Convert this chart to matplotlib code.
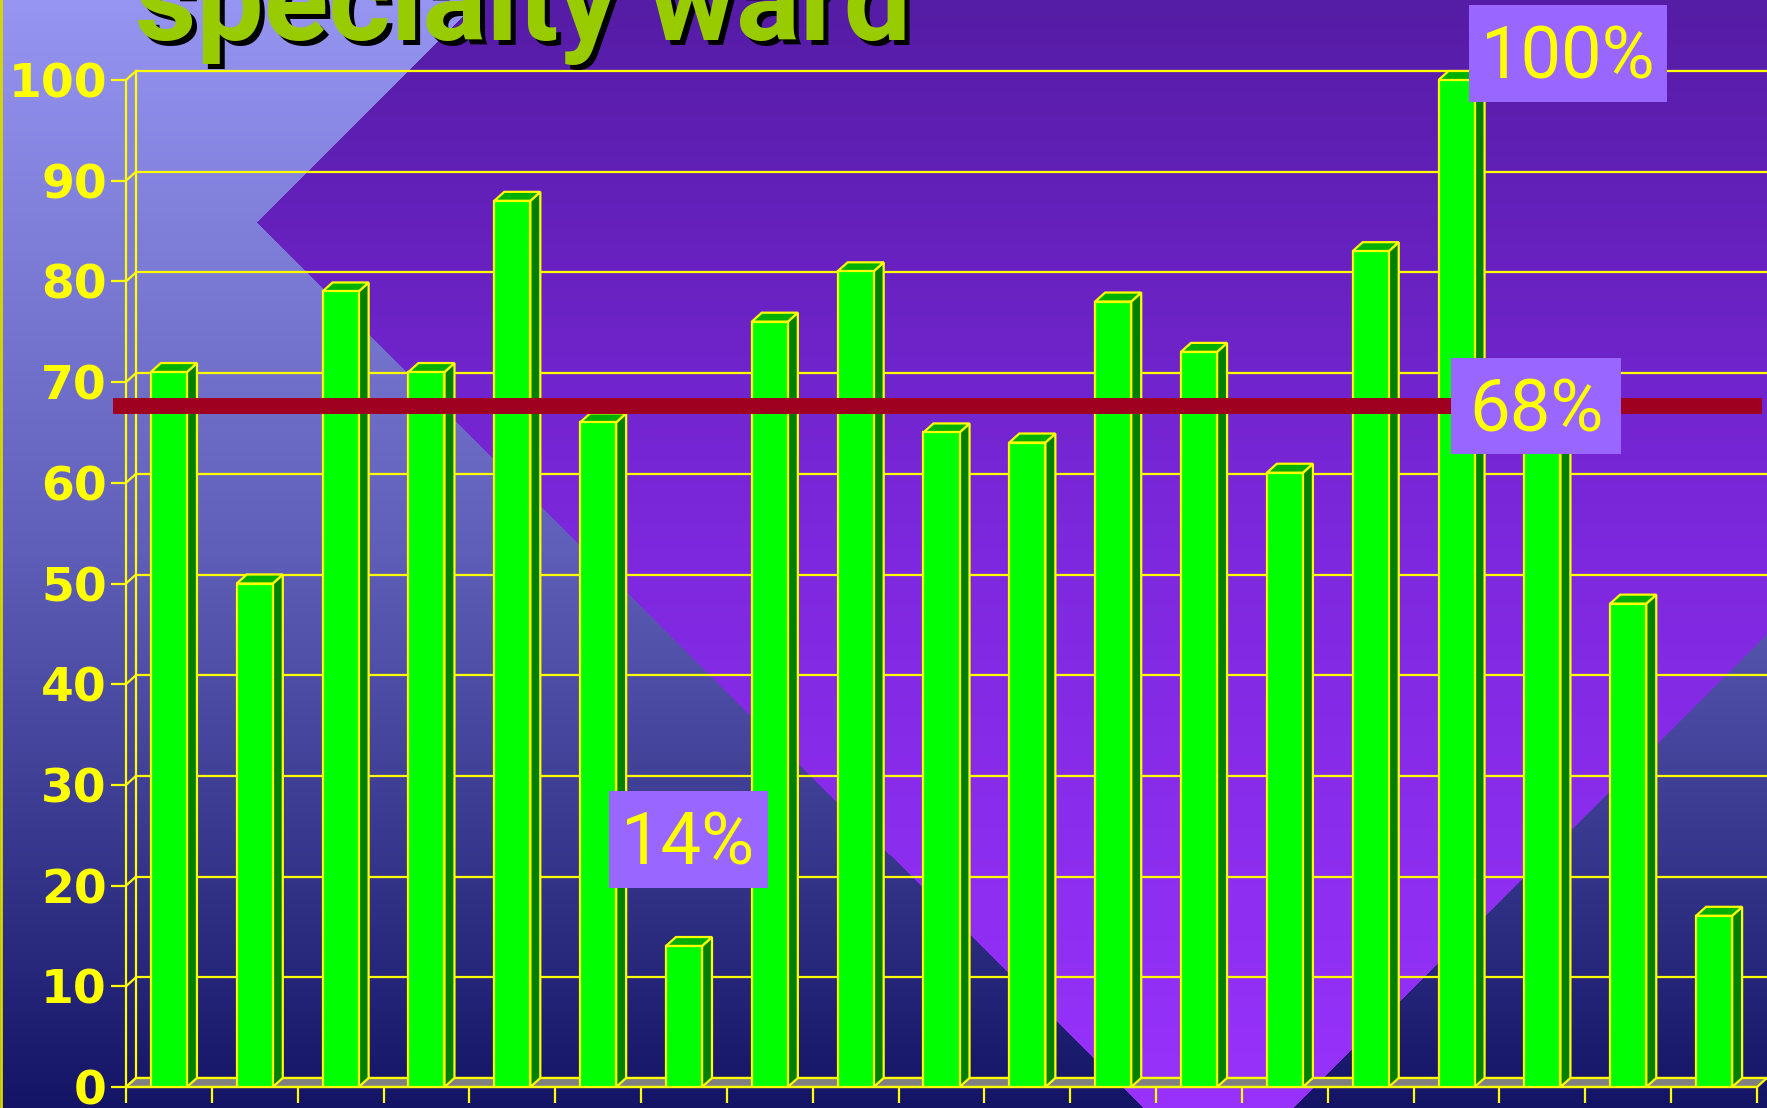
import numpy as np
import matplotlib
matplotlib.use("Agg")
import matplotlib.pyplot as plt
from matplotlib.patches import Polygon, Rectangle
from matplotlib.transforms import IdentityTransform, ScaledTranslation, offset_copy

# --- data ---
wards = list(range(1, 20))
pct = [71, 50, 79, 71, 88, 66, 14, 76, 81, 65, 64, 78, 73, 61, 83, 100, 66, 48, 17]
avg_pct = 68
yticks = list(range(0, 101, 10))
title = "specialty ward"

W, H = 1767, 1108
fig = plt.figure(figsize=(W / 100, H / 100), dpi=100)

# --- slide background: vertical gradient + purple diamond ---
bg = fig.add_axes([0, 0, 1, 1])
yy, xx = np.mgrid[0:H, 0:W]
ys = np.arange(H)
base = np.stack([np.interp(ys, [0, 550, H], c) for c in ([150, 95, 20], [150, 95, 20], [242, 185, 102])], axis=1)
dia = np.stack([np.interp(ys, [0, 550, H], c) for c in ([85, 125, 152], [28, 40, 50], [165, 222, 252])], axis=1)
mask = (np.abs(xx - 1217) + np.abs(yy - 222)) <= 960
img = np.where(mask[..., None], dia[:, None, :], base[:, None, :]) / 255.0
bg.imshow(img, extent=[0, W, H, 0], aspect="auto", interpolation="nearest")
bg.plot([1, 1], [0, H], color="#d8d800", lw=2)
bg.set_xlim(0, W)
bg.set_ylim(H, 0)
bg.axis("off")

# --- chart axes (front plane) ---
x0, x1, y0, y1 = 126, 1757, 1087, 80
ax = fig.add_axes([x0 / W, (H - y0) / H, (x1 - x0) / W, (y0 - y1) / H])
ax.set_facecolor("none")
n = len(pct)
ax.set_xlim(0, n)
ax.set_ylim(0, 100)
ddx = 10 * n / (x1 - x0)      # depth offset in data units
ddy = 9 * 100 / (y0 - y1)

yel = "yellow"
lw = 1.6

# back wall grid + left wall diagonals
for v in yticks:
    ax.plot([ddx, n + ddx], [v + ddy, v + ddy], color=yel, lw=lw, clip_on=False, zorder=1)
    ax.plot([0, ddx], [v, v + ddy], color=yel, lw=lw, clip_on=False, zorder=1)
ax.plot([ddx, ddx], [ddy, 100 + ddy], color=yel, lw=lw, clip_on=False, zorder=1)

# floor
ax.add_patch(Polygon([(0, 0), (n, 0), (n + ddx, ddy), (ddx, ddy)], closed=True,
                     facecolor="#808080", edgecolor=yel, lw=lw, clip_on=False, zorder=2))

# bars
bw = 0.42
xs = np.arange(n) + 0.5
for xc, v in zip(xs, pct):
    xl, xr = xc - bw / 2, xc + bw / 2
    ax.add_patch(Polygon([(xr, 0), (xr + ddx, ddy), (xr + ddx, v + ddy), (xr, v)], closed=True,
                         facecolor="#007f00", edgecolor=yel, lw=lw, zorder=3, clip_on=False))
    ax.add_patch(Polygon([(xl, v), (xr, v), (xr + ddx, v + ddy), (xl + ddx, v + ddy)], closed=True,
                         facecolor="#00b000", edgecolor=yel, lw=lw, zorder=3, clip_on=False))
ax.bar(xs, pct, width=bw, color="#00ff00", edgecolor=yel, lw=lw, zorder=3)

# average line (drawn a few pixels low, as on the slide)
line_tr = offset_copy(ax.transData, fig=fig, x=0, y=-4, units="dots")
ax.plot([-0.15, n + 0.06], [avg_pct, avg_pct], color="#a00020", lw=11.5,
        solid_capstyle="butt", clip_on=False, zorder=4, transform=line_tr)

# axes styling
for s in ["top", "right"]:
    ax.spines[s].set_visible(False)
for s in ["left", "bottom"]:
    ax.spines[s].set_color(yel)
    ax.spines[s].set_linewidth(lw)
    ax.spines[s].set_zorder(2.5)
ax.set_yticks(yticks)
ax.set_xticks(range(n + 1))
ax.set_xticklabels([])
ax.tick_params(axis="y", length=10.8, width=lw, color=yel, labelcolor=yel, labelsize=34, pad=3)
ax.tick_params(axis="x", length=11.5, width=lw, color=yel)
for t in ax.get_yticklabels():
    t.set_fontweight("bold")
    t.set_fontfamily("DejaVu Sans")


# min / max / avg labels
def tag(text, x, y, bwp, bhp, dy=0):
    tr = IdentityTransform() + ScaledTranslation(x, y, ax.transData)
    ax.add_patch(Rectangle((-bwp / 2, -bhp / 2 + dy), bwp, bhp, transform=tr, facecolor="#9966ff",
                           edgecolor="none", zorder=6, clip_on=False))
    ax.annotate(text, xy=(x, y), xytext=(0, -25 + dy), textcoords="offset pixels", ha="center",
                va="baseline", color=yel, fontsize=52, family="Roboto", zorder=7, annotation_clip=False)


imax = int(np.argmax(pct))
imin = int(np.argmin(pct))
tag(f"{pct[imax]}%", xs[imax] + 1.3, pct[imax] + 2.6, 198, 97)
tag(f"{pct[imin]}%", xs[imin] + 0.05, pct[imin] + 10.6, 159, 97)
tag(f"{avg_pct}%", 16.43, avg_pct, 170, 96, dy=-4)

# title (cut off at the top of the slide)
tx, ty = 135 / W, 1 - 40 / H
fig.text(tx + 5 / W, ty - 5 / H, title, color="black", fontsize=86, fontweight="bold",
         family="Roboto", va="baseline", ha="left")
fig.text(tx, ty, title, color="#99cc00", fontsize=86, fontweight="bold",
         family="Roboto", va="baseline", ha="left")

fig.savefig("out.png", dpi=100)
